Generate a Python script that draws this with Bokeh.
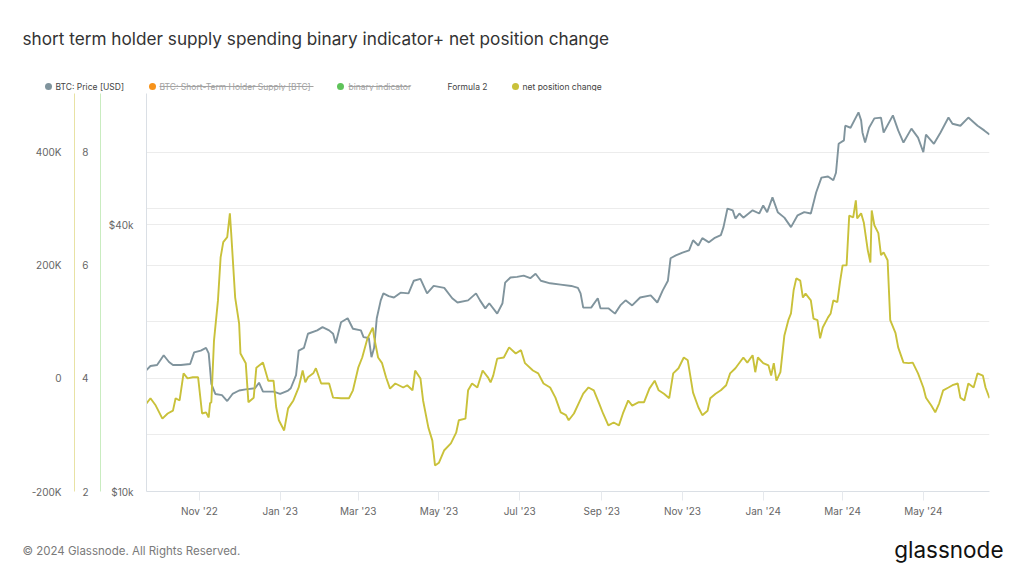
import pandas as pd
from bokeh.plotting import figure
from bokeh.layouts import column
from bokeh.core.properties import value
from bokeh.models import (Range1d, LinearAxis, LinearScale, FixedTicker, Grid, MonthsTicker,
                          DatetimeTickFormatter)
from bokeh.embed import file_html
from bokeh.resources import INLINE

# ---------------- data ----------------
price_dates = [
    "2022-09-22", "2022-09-25", "2022-09-30", "2022-10-05", "2022-10-09", "2022-10-12", "2022-10-18",
    "2022-10-25", "2022-10-28", "2022-11-02", "2022-11-06", "2022-11-08", "2022-11-10", "2022-11-13",
    "2022-11-18", "2022-11-22", "2022-11-26", "2022-12-01", "2022-12-06", "2022-12-13", "2022-12-16",
    "2022-12-19", "2022-12-27", "2023-01-01", "2023-01-07", "2023-01-09", "2023-01-13", "2023-01-15",
    "2023-01-19", "2023-01-22", "2023-01-29", "2023-02-02", "2023-02-07", "2023-02-10", "2023-02-12",
    "2023-02-16", "2023-02-21", "2023-02-25", "2023-03-03", "2023-03-05", "2023-03-09", "2023-03-11",
    "2023-03-13", "2023-03-15", "2023-03-18", "2023-03-20", "2023-03-24", "2023-03-28", "2023-04-02",
    "2023-04-08", "2023-04-12", "2023-04-17", "2023-04-22", "2023-04-27", "2023-05-05", "2023-05-11",
    "2023-05-15", "2023-05-23", "2023-05-29", "2023-06-01", "2023-06-05", "2023-06-08", "2023-06-14",
    "2023-06-18", "2023-06-20", "2023-06-24", "2023-06-29", "2023-07-04", "2023-07-09", "2023-07-13",
    "2023-07-17", "2023-07-24", "2023-08-01", "2023-08-09", "2023-08-14", "2023-08-16", "2023-08-18",
    "2023-08-24", "2023-08-29", "2023-08-31", "2023-09-06", "2023-09-11", "2023-09-15", "2023-09-19",
    "2023-09-24", "2023-09-30", "2023-10-08", "2023-10-13", "2023-10-17", "2023-10-21", "2023-10-23",
    "2023-10-27", "2023-11-01", "2023-11-06", "2023-11-09", "2023-11-13", "2023-11-16", "2023-11-21",
    "2023-11-25", "2023-11-30", "2023-12-02", "2023-12-05", "2023-12-09", "2023-12-11", "2023-12-14",
    "2023-12-17", "2023-12-24", "2023-12-29", "2024-01-01", "2024-01-04", "2024-01-08", "2024-01-12",
    "2024-01-17", "2024-01-22", "2024-01-27", "2024-02-01", "2024-02-06", "2024-02-10", "2024-02-14",
    "2024-02-19", "2024-02-23", "2024-02-25", "2024-02-27", "2024-03-02", "2024-03-03", "2024-03-07",
    "2024-03-13", "2024-03-15", "2024-03-16", "2024-03-18", "2024-03-21", "2024-03-25", "2024-03-30",
    "2024-04-01", "2024-04-08", "2024-04-12", "2024-04-16", "2024-04-22", "2024-04-27", "2024-05-01",
    "2024-05-03", "2024-05-09", "2024-05-14", "2024-05-20", "2024-05-23", "2024-05-29", "2024-06-04",
    "2024-06-11", "2024-06-16", "2024-06-20",
]
price_usd = [
    18800, 19200, 19300, 20300, 19600, 19300, 19300,
    19400, 20600, 20800, 21100, 20500, 17500, 16600,
    16500, 16000, 16600, 16900, 17000, 17100, 17600,
    16800, 16800, 16600, 16900, 17100, 18300, 20800,
    21100, 22700, 23100, 23500, 23100, 22700, 21600,
    24100, 24600, 23300, 23100, 22300, 22200, 20100,
    21100, 24600, 27000, 28000, 27600, 27400, 28100,
    28000, 29900, 30200, 28000, 29100, 28800, 27300,
    26700, 27000, 28000, 27000, 25900, 26600, 25200,
    26600, 29600, 30400, 30500, 30700, 30300, 31000,
    29900, 29500, 29300, 29100, 28800, 28000, 26000,
    26000, 27300, 25900, 25900, 25200, 26300, 27000,
    26300, 27400, 27700, 26700, 28400, 29900, 33600,
    34100, 34600, 35000, 36900, 35900, 37300, 36500,
    37300, 37900, 39500, 43500, 43100, 41300, 42400,
    41500, 43100, 42400, 44200, 42700, 46100, 42700,
    41500, 39500, 42000, 42700, 42400, 47300, 51100,
    51400, 50400, 52400, 60900, 62000, 66900, 66200,
    71700, 68800, 64600, 61300, 66200, 69500, 69800,
    64600, 70600, 65300, 61300, 65900, 62900, 58300,
    63900, 60900, 64600, 69800, 67600, 66900, 69800,
    66900, 65300, 63900,
]

npc_dates = [
    "2022-09-22", "2022-09-25", "2022-09-29", "2022-10-04", "2022-10-08", "2022-10-12", "2022-10-14",
    "2022-10-17", "2022-10-20", "2022-10-23", "2022-10-27", "2022-10-31", "2022-11-03", "2022-11-06",
    "2022-11-08", "2022-11-09", "2022-11-10", "2022-11-12", "2022-11-15", "2022-11-17", "2022-11-19",
    "2022-11-22", "2022-11-24", "2022-11-25", "2022-11-28", "2022-12-01", "2022-12-02", "2022-12-06",
    "2022-12-08", "2022-12-12", "2022-12-14", "2022-12-19", "2022-12-23", "2022-12-27", "2022-12-29",
    "2022-12-31", "2023-01-04", "2023-01-07", "2023-01-11", "2023-01-15", "2023-01-18", "2023-01-20",
    "2023-01-22", "2023-01-26", "2023-01-28", "2023-02-01", "2023-02-07", "2023-02-10", "2023-02-16",
    "2023-02-22", "2023-02-25", "2023-03-01", "2023-03-04", "2023-03-08", "2023-03-12", "2023-03-13",
    "2023-03-16", "2023-03-19", "2023-03-22", "2023-03-25", "2023-03-29", "2023-04-04", "2023-04-07",
    "2023-04-11", "2023-04-13", "2023-04-17", "2023-04-19", "2023-04-23", "2023-04-26", "2023-04-28",
    "2023-05-01", "2023-05-05", "2023-05-10", "2023-05-14", "2023-05-16", "2023-05-21", "2023-05-23",
    "2023-05-26", "2023-05-30", "2023-06-03", "2023-06-07", "2023-06-09", "2023-06-11", "2023-06-14",
    "2023-06-19", "2023-06-23", "2023-06-28", "2023-07-02", "2023-07-05", "2023-07-11", "2023-07-15",
    "2023-07-19", "2023-07-24", "2023-07-28", "2023-08-01", "2023-08-05", "2023-08-07", "2023-08-11",
    "2023-08-15", "2023-08-18", "2023-08-22", "2023-08-26", "2023-08-30", "2023-09-02", "2023-09-06",
    "2023-09-10", "2023-09-14", "2023-09-17", "2023-09-21", "2023-09-24", "2023-09-29", "2023-10-03",
    "2023-10-07", "2023-10-11", "2023-10-14", "2023-10-18", "2023-10-22", "2023-10-25", "2023-10-29",
    "2023-11-02", "2023-11-05", "2023-11-09", "2023-11-13", "2023-11-16", "2023-11-20", "2023-11-22",
    "2023-11-26", "2023-11-30", "2023-12-04", "2023-12-07", "2023-12-11", "2023-12-17", "2023-12-20",
    "2023-12-24", "2023-12-26", "2023-12-28", "2024-01-01", "2024-01-05", "2024-01-07", "2024-01-09",
    "2024-01-11", "2024-01-14", "2024-01-17", "2024-01-20", "2024-01-22", "2024-01-24", "2024-01-26",
    "2024-01-29", "2024-01-31", "2024-02-02", "2024-02-06", "2024-02-08", "2024-02-11", "2024-02-13",
    "2024-02-15", "2024-02-19", "2024-02-21", "2024-02-23", "2024-02-26", "2024-02-28", "2024-03-01",
    "2024-03-04", "2024-03-06", "2024-03-09", "2024-03-11", "2024-03-12", "2024-03-15", "2024-03-17",
    "2024-03-20", "2024-03-22", "2024-03-23", "2024-03-25", "2024-03-28", "2024-03-30", "2024-04-01",
    "2024-04-04", "2024-04-06", "2024-04-10", "2024-04-12", "2024-04-16", "2024-04-20", "2024-04-23",
    "2024-04-27", "2024-05-01", "2024-05-03", "2024-05-07", "2024-05-10", "2024-05-13", "2024-05-16",
    "2024-05-20", "2024-05-23", "2024-05-27", "2024-05-29", "2024-06-01", "2024-06-04", "2024-06-08",
    "2024-06-11", "2024-06-15", "2024-06-17", "2024-06-20",
]
npc_thousands = [
    -44, -35, -48, -71, -62, -57, -35,
    -39, 9, 0, 2, 2, -62, -60,
    -69, -44, -42, 67, 138, 214, 241,
    250, 292, 257, 143, 97, 44, 27,
    -42, -34, 19, 28, -4, -4, -51,
    -74, -92, -53, -39, -16, 14, -7,
    2, 9, 18, -9, -9, -34, -35,
    -35, -21, 19, 37, 71, 90, 73,
    37, 27, 2, -18, -9, -16, -12,
    -21, 14, 0, -39, -87, -110, -154,
    -149, -127, -115, -96, -74, -71, -21,
    -9, -16, 14, 2, -7, 5, 35,
    37, 55, 44, 50, 27, 14, 9,
    -9, -16, -34, -60, -65, -74, -62,
    -42, -27, -16, -21, -44, -62, -83,
    -78, -83, -62, -39, -48, -42, -42,
    -18, -4, -21, -27, -35, 9, 18,
    37, 32, -25, -51, -65, -57, -35,
    -27, -21, -12, 9, 18, 37, 28,
    41, 11, 37, 27, 23, 5, 27,
    -4, 11, 76, 103, 115, 156, 177,
    173, 143, 150, 138, 106, 103, 71,
    90, 108, 115, 138, 135, 170, 200,
    200, 288, 285, 315, 283, 292, 276,
    227, 205, 297, 271, 257, 218, 223,
    209, 103, 80, 55, 28, 27, 28,
    9, -16, -34, -48, -60, -44, -21,
    -16, -12, -9, -34, -39, -9, -16,
    9, 5, -16, -35,
]

x_start, x_end = "2022-09-22", "2024-06-20"
price_range = (10000, 79100)
binary_range = (2, 9.04)
npc_range = (-200000, 504000)

npc_ticks = [-200000, 0, 200000, 400000]
npc_tick_labels = ["-200K", "0", "200K", "400K"]
npc_grid_ticks = [-100000, 0, 100000, 200000, 300000, 400000]
binary_ticks = [2, 4, 6, 8]
binary_tick_labels = ["2", "4", "6", "8"]
price_ticks = [10000, 40000]
price_tick_labels = ["$10k", "$40k"]

legend_names = ["BTC: Price [USD]", "BTC: Short-Term Holder Supply [BTC]", "binary indicator",
                "Formula 2", "net position change"]
legend_colors = ["#80949d", "#f7931a", "#5fc35a", None, "#c9c13a"]
legend_hidden = [False, True, True, False, False]

title_text = "short term holder supply spending binary indicator+ net position change"
footer_text = "\u00a9 2024 Glassnode. All Rights Reserved."
logo_text = "glassnode"

FONT = "Inter"
W = 1024
HEAD_H, MAIN_H, FOOT_H = 91, 434, 51

# ---------------- header (title + legend) ----------------
hdr = figure(width=W, height=HEAD_H, x_range=Range1d(0, W), y_range=Range1d(HEAD_H, 0),
             output_backend="svg", toolbar_location=None, min_border=0,
             x_axis_location=None, y_axis_location=None, frame_align=False)
hdr.outline_line_color = None
hdr.grid.visible = False
hdr.text(x=[22], y=[38], text=[title_text], text_font=value(FONT), text_font_size="17.2px",
         text_color="#333333", text_baseline="middle")

legend_dot_x = [48, 152, 340, None, 515]
legend_text_x = [55, 159, 348, 447, 522]
legend_text_end = [124, 313, 410, 487, 601]
LEG_Y = 86
for name, col, hid, dx, tx, te in zip(legend_names, legend_colors, legend_hidden,
                                      legend_dot_x, legend_text_x, legend_text_end):
    if col is not None:
        hdr.scatter(x=[dx], y=[LEG_Y], size=7, fill_color=col, line_color=None)
    tcol = "#a3a3a3" if hid else "#444444"
    hdr.text(x=[tx], y=[LEG_Y], text=[name], text_font=value(FONT), text_font_size="8.5px",
             text_color=tcol, text_baseline="middle")
    if hid:
        hdr.segment(x0=[tx], y0=[LEG_Y], x1=[te], y1=[LEG_Y], line_color=tcol, line_width=1)

# ---------------- main chart ----------------
p = figure(width=W, height=MAIN_H, x_axis_type="datetime", y_axis_type="log",
           x_range=Range1d(pd.Timestamp(x_start), pd.Timestamp(x_end)),
           y_range=Range1d(*price_range),
           output_backend="svg", toolbar_location=None, frame_align=False,
           min_border_left=146, min_border_right=35, min_border_top=2, min_border_bottom=34)
p.outline_line_color = None
p.background_fill_color = "white"
p.border_fill_color = "white"
p.extra_y_ranges = {"bin": Range1d(*binary_range), "net": Range1d(*npc_range)}
p.extra_y_scales = {"bin": LinearScale(), "net": LinearScale()}


def style_axis(ax, ticks, labels, line_color, standoff, pad):
    ax.ticker = FixedTicker(ticks=ticks)
    ax.major_label_overrides = dict(zip(ticks, labels))
    ax.axis_line_color = line_color
    ax.major_tick_line_color = None
    ax.minor_tick_line_color = None
    ax.major_tick_out = 0
    ax.major_tick_in = 0
    ax.minor_tick_out = 0
    ax.minor_tick_in = 0
    ax.major_label_standoff = standoff
    ax.major_label_text_font = FONT
    ax.major_label_text_font_size = "10px"
    ax.major_label_text_color = "#666666"
    if pad is not None:
        ax.axis_label = " "
        ax.axis_label_standoff = pad
        ax.axis_label_text_font_size = "1px"


price_axis = p.yaxis[0]
style_axis(price_axis, price_ticks, price_tick_labels, "#dadfe5", 13, 1)
bin_axis = LinearAxis(y_range_name="bin")
style_axis(bin_axis, binary_ticks, binary_tick_labels, "#c9ecc0", 12, 0)
p.add_layout(bin_axis, "left")
net_axis = LinearAxis(y_range_name="net")
style_axis(net_axis, npc_ticks, npc_tick_labels, "#e8e2a4", 13, None)
p.add_layout(net_axis, "left")

xa = p.xaxis[0]
xa.ticker = MonthsTicker(months=[0, 2, 4, 6, 8, 10])
xa.formatter = DatetimeTickFormatter(months="%b '%y", days="%b '%y", years="%b '%y")
xa.axis_line_color = "#dadfe5"
xa.major_tick_line_color = "#e6e9ed"
xa.major_tick_out = 9
xa.major_tick_in = 0
xa.minor_tick_line_color = None
xa.major_label_standoff = 4
xa.major_label_text_font = FONT
xa.major_label_text_font_size = "10px"
xa.major_label_text_color = "#666666"

p.xgrid.visible = False
p.ygrid.ticker = FixedTicker(ticks=price_ticks)
p.ygrid.grid_line_color = "#ececec"
net_grid = Grid(dimension=1, ticker=FixedTicker(ticks=npc_grid_ticks), y_range_name="net",
                grid_line_color="#ececec")
p.add_layout(net_grid, "center")

p.line(pd.to_datetime(price_dates), price_usd, line_color=legend_colors[0], line_width=1.9)
p.line(pd.to_datetime(npc_dates), [v * 1000 for v in npc_thousands], line_color=legend_colors[4],
       line_width=1.9, y_range_name="net")

# ---------------- footer ----------------
ftr = figure(width=W, height=FOOT_H, x_range=Range1d(0, W),
             y_range=Range1d(HEAD_H + MAIN_H + FOOT_H, HEAD_H + MAIN_H),
             output_backend="svg", toolbar_location=None, min_border=0,
             x_axis_location=None, y_axis_location=None, frame_align=False)
ftr.outline_line_color = None
ftr.grid.visible = False
ftr.text(x=[22], y=[550], text=[footer_text], text_font=value(FONT), text_font_size="11.5px",
         text_color="#7a7a7a", text_baseline="middle")
ftr.text(x=[1003], y=[549], text=[logo_text], text_font=value(FONT), text_font_size="22.5px",
         text_color="#111111", text_baseline="middle", text_align="right")

layout = column(hdr, p, ftr, spacing=0)
open("out.html", "w").write(file_html(layout, INLINE))
